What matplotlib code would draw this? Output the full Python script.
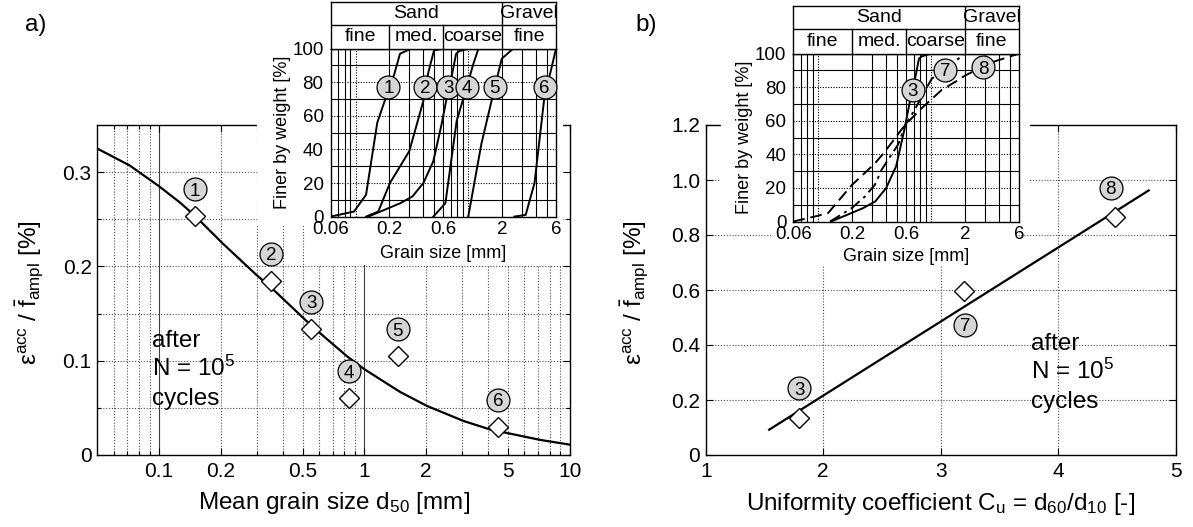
import matplotlib
matplotlib.use('Agg')
import matplotlib.pyplot as plt
from matplotlib.patches import Rectangle
from matplotlib.transforms import offset_copy

plt.rcParams['font.family'] = ['Liberation Sans', 'DejaVu Sans']
plt.rcParams['mathtext.fontset'] = 'custom'
plt.rcParams['mathtext.rm'] = 'Liberation Sans'
plt.rcParams['mathtext.it'] = 'Liberation Sans:italic'
plt.rcParams['mathtext.bf'] = 'Liberation Sans:bold'

# ---- data, panel a) ----
d50 = [0.149, 0.350, 0.55, 0.841, 1.455, 4.5]
eps_a = [0.253, 0.185, 0.134, 0.060, 0.105, 0.030]
names_a = ['1', '2', '3', '4', '5', '6']
fit_d50 = [0.05, 0.072, 0.1, 0.126, 0.149, 0.205, 0.298, 0.35, 0.468, 0.553,
           0.82, 1.0, 1.49, 2.02, 3.05, 4.11, 7.2, 10]
fit_eps_a = [0.325, 0.307, 0.285, 0.268, 0.254, 0.224, 0.191, 0.178, 0.152, 0.137,
             0.105, 0.091, 0.067, 0.052, 0.036, 0.027, 0.016, 0.011]

# ---- data, panel b) ----
cu = [1.797, 3.198, 4.486]
eps_b = [0.135, 0.596, 0.864]
names_b = ['3', '7', '8']
fit_cu = [1.54, 4.77]
fit_eps_b = [0.092, 0.962]

# ---- grain size distribution curves (grain size [mm], finer [%]) ----
gs1 = [0.06, 0.097, 0.124, 0.156, 0.186, 0.221, 0.248, 0.311]
pf1 = [0, 3, 13, 56, 71, 85, 97, 100]
gs2 = [0.124, 0.159, 0.202, 0.300, 0.400, 0.443, 0.497, 0.6]
pf2 = [0, 3, 20, 39, 69, 86, 99, 100]
gs3 = [0.13, 0.25, 0.32, 0.40, 0.49, 0.58, 0.65, 0.71, 0.78, 0.83, 1.0]
pf3 = [0, 8, 12, 20, 33, 55, 72, 83, 97, 98.5, 100]
gs4 = [0.49, 0.627, 0.789, 0.968, 1.11, 1.23]
pf4 = [0, 8, 57, 77, 91, 100]
gs5 = [1.0, 1.31, 1.61, 1.98, 2.5]
pf5 = [0, 43.6, 69, 94, 100]
gs6 = [2.56, 3.23, 3.87, 4.75, 5.36, 6.0]
pf6 = [0, 1, 20, 72, 86, 100]
gs7 = [0.127, 0.198, 0.26, 0.318, 0.365, 0.511, 0.586, 0.72, 1.01, 2.0]
pf7 = [0, 8, 15, 22, 31, 46, 57, 67, 85, 100]
gs8 = [0.06, 0.0934, 0.122, 0.198, 0.259, 0.318, 0.389, 0.586, 0.824, 1.24,
       1.74, 2.0, 3.5, 6.0]
pf8 = [0, 3, 5, 21.7, 29, 34.7, 41.6, 57.5, 67.5, 78.4, 84.3, 87, 95, 100]

# label positions inside the insets
lab_a_x = [0.196, 0.414, 0.665, 0.98, 1.72, 4.76]
lab_a_y = [77.4] * 6
lab_b_x = [0.688, 1.33, 2.88]
lab_b_y = [78.4, 90.5, 92.0]

W, H = 1193, 527
GRAY = '#d6d6d6'
fig = plt.figure(figsize=(W / 100, H / 100), dpi=100)


def box(x0, y0, x1, y1):
    # pixel box (top-left origin) -> figure fraction rect
    return [x0 / W, 1 - y1 / H, (x1 - x0) / W, (y1 - y0) / H]


def circ(ax, x, y, s, dx=0, dy=0, ms=16.5, fs=13.5):
    tr = offset_copy(ax.transData, fig=fig, x=dx, y=dy, units='dots')
    ax.plot([x], [y], 'o', ms=ms, mfc=GRAY, mec='k', mew=0.9, transform=tr,
            zorder=6, clip_on=False)
    ax.text(x, y, s, transform=tr, ha='center', va='center_baseline',
            fontsize=fs, zorder=7)


def main_style(ax):
    for sp in ax.spines.values():
        sp.set_linewidth(1.0)
    ax.tick_params(which='both', direction='in', top=True, right=True,
                   labelsize=15, width=0.8)
    ax.tick_params(which='major', length=5)
    ax.tick_params(which='minor', length=3)
    ax.tick_params(axis='x', pad=5)
    ax.tick_params(axis='y', pad=4)


dot = dict(ls=(0, (1, 1.6)), color='0.3', lw=0.8, zorder=1)

# ===== panel a) main =====
ax = fig.add_axes(box(97.3, 125, 569.6, 455))
ax.set_xscale('log')
minor_a = [0.06, 0.07, 0.08, 0.09, 0.3, 0.4, 0.6, 0.7, 0.8, 0.9,
           3, 4, 6, 7, 8, 9]
for v in minor_a + [0.2, 0.5, 2, 5]:
    ax.axvline(v, **dot)
for v in [0.1, 1]:
    ax.axvline(v, color='0.25', lw=0.8, zorder=1)
for v in [0.05, 0.1, 0.15, 0.2, 0.25, 0.3]:
    ax.axhline(v, **dot)
ax.plot(fit_d50, fit_eps_a, color='k', lw=1.6, zorder=3)
ax.plot(d50, eps_a, 'D', ms=10.5, mfc='white', mec='k', mew=1, ls='none', zorder=4)
for x, y, s in zip(d50, eps_a, names_a):
    circ(ax, x, y, s, dy=27)
ax.set_xlim(0.05, 10)
ax.set_ylim(0, 0.35)
ax.set_xticks([0.1, 0.2, 0.5, 1, 2, 5, 10])
ax.set_xticklabels(['0.1', '0.2', '0.5', '1', '2', '5', '10'])
ax.set_xticks(minor_a, minor=True)
ax.set_xticklabels([], minor=True)
ax.set_yticks([0, 0.1, 0.2, 0.3])
ax.set_yticklabels(['0', '0.1', '0.2', '0.3'])
ax.set_yticks([0.05, 0.15, 0.25], minor=True)
main_style(ax)
ax.text(0.116, 0.326, 'after', transform=ax.transAxes, fontsize=17.5, va='baseline', zorder=5)
ax.text(0.116, 0.240, 'N = 10$^5$', transform=ax.transAxes, fontsize=17.5, va='baseline', zorder=5)
ax.text(0.116, 0.153, 'cycles', transform=ax.transAxes, fontsize=17.5, va='baseline', zorder=5)

# ===== panel b) main =====
bx = fig.add_axes(box(705.7, 125, 1175.7, 455))
for v in [2, 3, 4]:
    bx.axvline(v, **dot)
for v in [0.2, 0.4, 0.6, 0.8, 1.0]:
    bx.axhline(v, **dot)
bx.plot(fit_cu, fit_eps_b, color='k', lw=1.6, zorder=3)
bx.plot(cu, eps_b, 'D', ms=10.5, mfc='white', mec='k', mew=1, ls='none', zorder=4)
offs_b = [(0, 29.7), (1, -33.8), (-4.5, 29.4)]
for (x, y, s), (dx, dy) in zip(zip(cu, eps_b, names_b), offs_b):
    circ(bx, x, y, s, dx=dx, dy=dy)
bx.set_xlim(1, 5)
bx.set_ylim(0, 1.2)
bx.set_xticks([1, 2, 3, 4, 5])
bx.set_yticks([0, 0.2, 0.4, 0.6, 0.8, 1.0, 1.2])
bx.set_yticklabels(['0', '0.2', '0.4', '0.6', '0.8', '1.0', '1.2'])
main_style(bx)
bx.text(0.692, 0.318, 'after', transform=bx.transAxes, fontsize=17.5, va='baseline', zorder=5)
bx.text(0.692, 0.230, 'N = 10$^5$', transform=bx.transAxes, fontsize=17.5, va='baseline', zorder=5)
bx.text(0.692, 0.143, 'cycles', transform=bx.transAxes, fontsize=17.5, va='baseline', zorder=5)

# white backgrounds behind the insets
for r in [box(257, 0, 563, 225), box(305, 225, 563, 265),
          box(721, 0, 1030, 225), box(772, 225, 1018, 265)]:
    fig.add_artist(Rectangle((r[0], r[1]), r[2], r[3], transform=fig.transFigure,
                             fc='white', ec='none', zorder=1))


# ===== insets =====
def inset(rect, hrect, curves, labs):
    ia = fig.add_axes(rect)
    ia.set_zorder(2)
    ia.set_xscale('log')
    for v in [0.07, 0.08, 0.09, 0.2, 0.3, 0.4, 0.5, 0.6, 0.7, 0.8, 0.9, 2, 3, 4, 5]:
        ia.axvline(v, color='k', lw=0.8, zorder=1)
    for v in [0.1, 1]:
        ia.axvline(v, ls=(0, (1, 1.4)), color='k', lw=0.8, zorder=1)
    for v in [10, 30, 50, 70, 90]:
        ia.axhline(v, color='k', lw=0.8, zorder=1)
    for v in [20, 40, 60, 80]:
        ia.axhline(v, ls=(0, (1, 1.4)), color='k', lw=0.8, zorder=1)
    for g, p, ls in curves:
        ia.plot(g, p, color='k', lw=1.4, ls=ls, zorder=3)
    for x, y, s in zip(*labs):
        circ(ia, x, y, s, ms=16.5, fs=13.5)
    ia.set_xlim(0.06, 6)
    ia.set_ylim(0, 100)
    ia.set_xticks([0.06, 0.2, 0.6, 2, 6])
    ia.set_xticklabels(['0.06', '0.2', '0.6', '2', '6'])
    ia.set_xticks([], minor=True)
    ia.set_yticks([0, 20, 40, 60, 80, 100])
    ia.tick_params(length=0, labelsize=13.5, pad=3)
    ia.tick_params(axis='y', pad=5)
    for sp in ia.spines.values():
        sp.set_linewidth(1.0)

    ha = fig.add_axes(hrect)
    ha.set_zorder(2)
    ha.set_xscale('log')
    ha.set_xlim(0.06, 6)
    ha.set_ylim(0, 1)
    ha.set_xticks([])
    ha.set_yticks([])
    ha.set_xticks([], minor=True)
    ha.axhline(0.51, color='k', lw=1)
    for v in [0.2, 0.6]:
        ha.plot([v, v], [0, 0.51], color='k', lw=1)
    ha.axvline(2, color='k', lw=1)
    ha.text(0.346, 0.755, 'Sand', ha='center', va='center', fontsize=14)
    ha.text(3.46, 0.755, 'Gravel', ha='center', va='center', fontsize=14)
    ha.text(0.11, 0.255, 'fine', ha='center', va='center', fontsize=14)
    ha.text(0.346, 0.255, 'med.', ha='center', va='center', fontsize=14)
    ha.text(1.095, 0.255, 'coarse', ha='center', va='center', fontsize=14)
    ha.text(3.46, 0.255, 'fine', ha='center', va='center', fontsize=14)
    for sp in ha.spines.values():
        sp.set_linewidth(1.0)
    return ia


curves_a = [(gs1, pf1, '-'), (gs2, pf2, '-'), (gs3, pf3, '-'),
            (gs4, pf4, '-'), (gs5, pf5, '-'), (gs6, pf6, '-')]
inset(box(330.5, 48.7, 556, 216.6), box(330.5, 1.7, 556, 48.7), curves_a,
      (lab_a_x, lab_a_y, names_a))
curves_b = [(gs3, pf3, '-'), (gs7, pf7, (0, (6, 2.5, 1.5, 2.5))), (gs8, pf8, (0, (6, 3)))]
inset(box(793.3, 53.7, 1018.9, 221.5), box(793.3, 6, 1018.9, 53.7), curves_b,
      (lab_b_x, lab_b_y, names_b))

# ===== labels =====
def ftext(x, y, s, **kw):
    fig.text(x / W, 1 - y / H, s, ha='center', va='center', **kw)


ftext(36, 25, 'a)', fontsize=17.5)
ftext(646, 25, 'b)', fontsize=17.5)
ylab = 'ε$^{\\rm acc}$ / $\\bar{\\rm f}_{\\rm ampl}$ [%]'
ftext(30, 293, ylab, fontsize=17.5, rotation=90)
ftext(635, 293, ylab, fontsize=17.5, rotation=90)
ftext(334, 503, 'Mean grain size d$_{50}$ [mm]', fontsize=17.5)
ftext(941, 504, 'Uniformity coefficient C$_{\\rm u}$ = d$_{60}$/d$_{10}$ [-]', fontsize=17.5)
ftext(282.3, 132.6, 'Finer by weight [%]', fontsize=13, rotation=90)
ftext(744.8, 137.6, 'Finer by weight [%]', fontsize=13, rotation=90)
ftext(443.3, 253.3, 'Grain size [mm]', fontsize=13)
ftext(906, 256, 'Grain size [mm]', fontsize=13)

fig.savefig('out.png', dpi=100)
